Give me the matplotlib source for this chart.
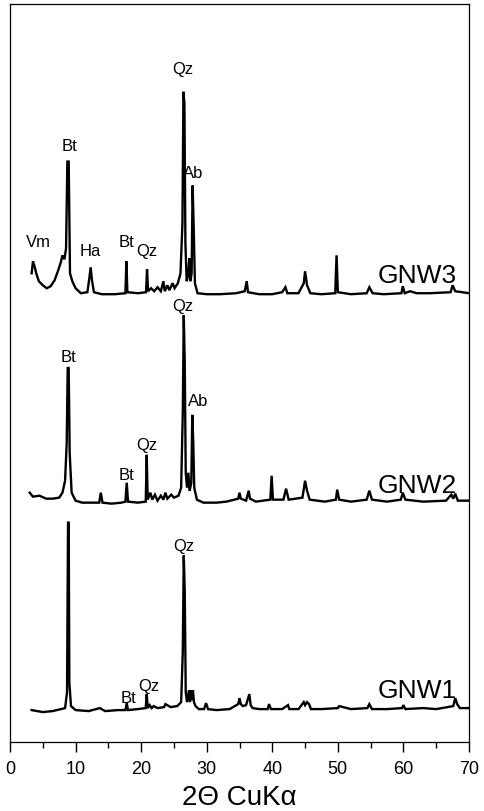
import matplotlib
matplotlib.use("Agg")
import matplotlib.pyplot as plt
from matplotlib.ticker import MultipleLocator

plt.rcParams['font.family'] = ['Liberation Sans', 'DejaVu Sans']

# ---- data: 2-theta positions and stacked intensities (arbitrary units) ----
gnw1_x = [3.3, 5.0, 6.5, 8.4, 8.7, 8.85, 8.95, 9.05, 9.3, 10.0, 12.0, 13.7, 14.5, 16.5,
          17.6, 17.8, 18.0, 19.5, 20.7, 20.85, 21.0, 21.3, 21.6, 21.9, 22.5, 23.5, 23.7,
          24.5, 25.5, 26.1, 26.35, 26.5, 26.65, 26.8, 27.0, 27.3, 27.45, 27.6, 27.75,
          27.9, 28.05, 28.3, 28.8, 29.6, 29.9, 30.2, 31.5, 33.5, 34.8, 35.0, 35.2, 35.5,
          36.0, 36.5, 36.7, 37.0, 38.0, 39.3, 39.5, 39.8, 41.5, 42.4, 42.6, 44.0, 44.8,
          45.0, 45.3, 45.6, 45.9, 47.5, 50.0, 50.2, 52.0, 54.5, 54.8, 55.2, 57.5, 59.8,
          60.0, 60.3, 63.0, 65.0, 67.6, 67.9, 68.2, 68.6, 70.0]
gnw1_y = [32, 30, 31, 34, 50, 220, 220, 60, 36, 32, 31, 34, 31, 32,
          32, 39, 32, 33, 34, 48, 34, 37, 34, 36, 34, 35, 38,
          35, 36, 40, 90, 187, 150, 50, 40, 52, 40, 52, 42,
          52, 40, 36, 33, 33, 39, 33, 32, 33, 38, 44, 38, 36,
          37, 48, 37, 34, 33, 33, 38, 33, 33, 37, 33, 33, 40,
          37, 40, 38, 33, 33, 34, 36, 33, 34, 38, 33, 33, 34,
          37, 33, 34, 33, 36, 44, 38, 34, 34]

gnw2_x = [3.0, 3.5, 4.5, 5.5, 6.5, 7.5, 8.0, 8.4, 8.65, 8.8, 8.95, 9.1, 9.4, 10.0, 11.0,
          12.5, 13.6, 13.85, 14.1, 15.5, 17.0, 17.6, 17.8, 18.0, 19.5, 20.7, 20.85, 21.0,
          21.4, 21.7, 22.1, 22.5, 23.0, 23.4, 23.7, 24.0, 24.6, 25.0, 25.7, 26.1, 26.35,
          26.5, 26.65, 26.8, 27.0, 27.2, 27.4, 27.65, 27.8, 27.95, 28.1, 28.5, 29.5, 31.5,
          33.0, 34.8, 35.0, 35.2, 36.0, 36.4, 36.6, 37.5, 39.7, 39.9, 40.1, 41.7, 42.1,
          42.5, 44.6, 45.0, 45.3, 45.7, 48.0, 49.7, 49.9, 50.2, 52.0, 54.4, 54.8, 55.2,
          57.5, 59.6, 59.9, 60.3, 63.0, 66.5, 67.3, 67.6, 67.9, 68.3, 70.0]
gnw2_y = [250, 246, 247, 244, 244, 245, 250, 262, 300, 375, 375, 290, 250, 242, 240,
          240, 240, 250, 240, 239, 240, 241, 260, 241, 240, 241, 288, 243,
          250, 243, 248, 242, 247, 243, 250, 244, 248, 245, 247, 255, 330,
          428, 380, 270, 255, 270, 252, 260, 328, 300, 255, 243, 240, 240,
          241, 244, 250, 244, 242, 252, 244, 241, 243, 267, 243, 243, 254,
          243, 245, 262, 252, 243, 241, 243, 253, 243, 241, 243, 252, 243,
          241, 243, 250, 243, 241, 242, 248, 244, 249, 242, 242]

gnw3_x = [3.3, 3.5, 3.7, 4.0, 4.4, 5.0, 5.6, 6.2, 6.8, 7.3, 7.7, 8.0, 8.3, 8.55, 8.75,
          8.95, 9.15, 9.5, 10.0, 10.8, 11.8, 12.1, 12.3, 12.5, 12.8, 14.0, 16.0, 17.6,
          17.75, 17.9, 19.5, 20.75, 20.9, 21.05, 21.5, 22.0, 22.5, 23.0, 23.4, 23.6, 24.0,
          24.3, 24.8, 25.1, 25.6, 26.0, 26.3, 26.45, 26.6, 26.75, 26.95, 27.2, 27.35, 27.5,
          27.7, 27.85, 28.0, 28.2, 28.6, 30.0, 32.0, 34.5, 35.8, 36.1, 36.3, 38.0, 40.0,
          41.5, 42.0, 42.3, 44.0, 44.8, 45.0, 45.3, 45.8, 47.5, 49.6, 49.8, 50.0, 52.0,
          54.4, 54.8, 55.3, 57.0, 59.7, 59.9, 60.2, 61.0, 62.0, 64.0, 67.2, 67.5, 67.9, 70.0]
gnw3_y = [470, 482, 478, 470, 462, 458, 455, 457, 463, 472, 480, 488, 484, 495, 582,
          582, 470, 462, 455, 450, 451, 465, 476, 463, 451, 449, 449, 450,
          482, 451, 450, 451, 474, 452, 455, 452, 456, 452, 462, 452, 458,
          453, 460, 455, 460, 470, 520, 652, 640, 500, 462, 470, 485, 462,
          470, 558, 520, 460, 450, 449, 449, 450, 452, 462, 451, 449, 449,
          451, 456, 450, 450, 460, 472, 458, 450, 449, 450, 488, 451, 449,
          450, 456, 450, 449, 450, 457, 450, 452, 450, 450, 451, 458, 452, 450]

sample_names = ["GNW1", "GNW2", "GNW3"]
sample_label_y = [52, 258, 468]

# peak annotations: (label, 2theta, height)
peak_labels = [
    ("Qz", 26.5, 197), ("Bt", 18.0, 45), ("Qz", 21.2, 57),
    ("Qz", 26.4, 438), ("Bt", 8.9, 387), ("Ab", 28.7, 342), ("Qz", 20.9, 298), ("Bt", 17.7, 268),
    ("Qz", 26.4, 675), ("Bt", 9.1, 598), ("Ab", 27.9, 571), ("Vm", 4.3, 502),
    ("Ha", 12.2, 493), ("Bt", 17.7, 502), ("Qz", 20.9, 493),
]

xticks = [0, 10, 20, 30, 40, 50, 60, 70]

fig = plt.figure(figsize=(4.84, 8.12), dpi=100)
ax = fig.add_axes([10/484, 1-743/812, 459/484, 738/812])

for xs, ys in [(gnw1_x, gnw1_y), (gnw2_x, gnw2_y), (gnw3_x, gnw3_y)]:
    ax.plot(xs, ys, color='black', lw=1.7, solid_joinstyle='miter')

for name, yv in zip(sample_names, sample_label_y):
    ax.text(56.0, yv, name, fontsize=19, ha='left', va='center')

for lab, xv, yv in peak_labels:
    ax.text(xv, yv, lab, fontsize=12, ha='center', va='center')

ax.set_xlim(0, 70)
ax.set_ylim(0, 740)
ax.set_xticks(xticks)
ax.set_xticklabels([str(t) for t in xticks], fontsize=13)
ax.xaxis.set_minor_locator(MultipleLocator(5))
ax.tick_params(axis='x', which='major', direction='out', length=7, width=1, pad=6)
ax.tick_params(axis='x', which='minor', direction='out', length=4, width=1)
ax.set_yticks([])
for s in ax.spines.values():
    s.set_linewidth(0.9)
ax.set_xlabel("2Θ CuKα", fontsize=20, labelpad=5)

fig.savefig("out.png", dpi=100)
